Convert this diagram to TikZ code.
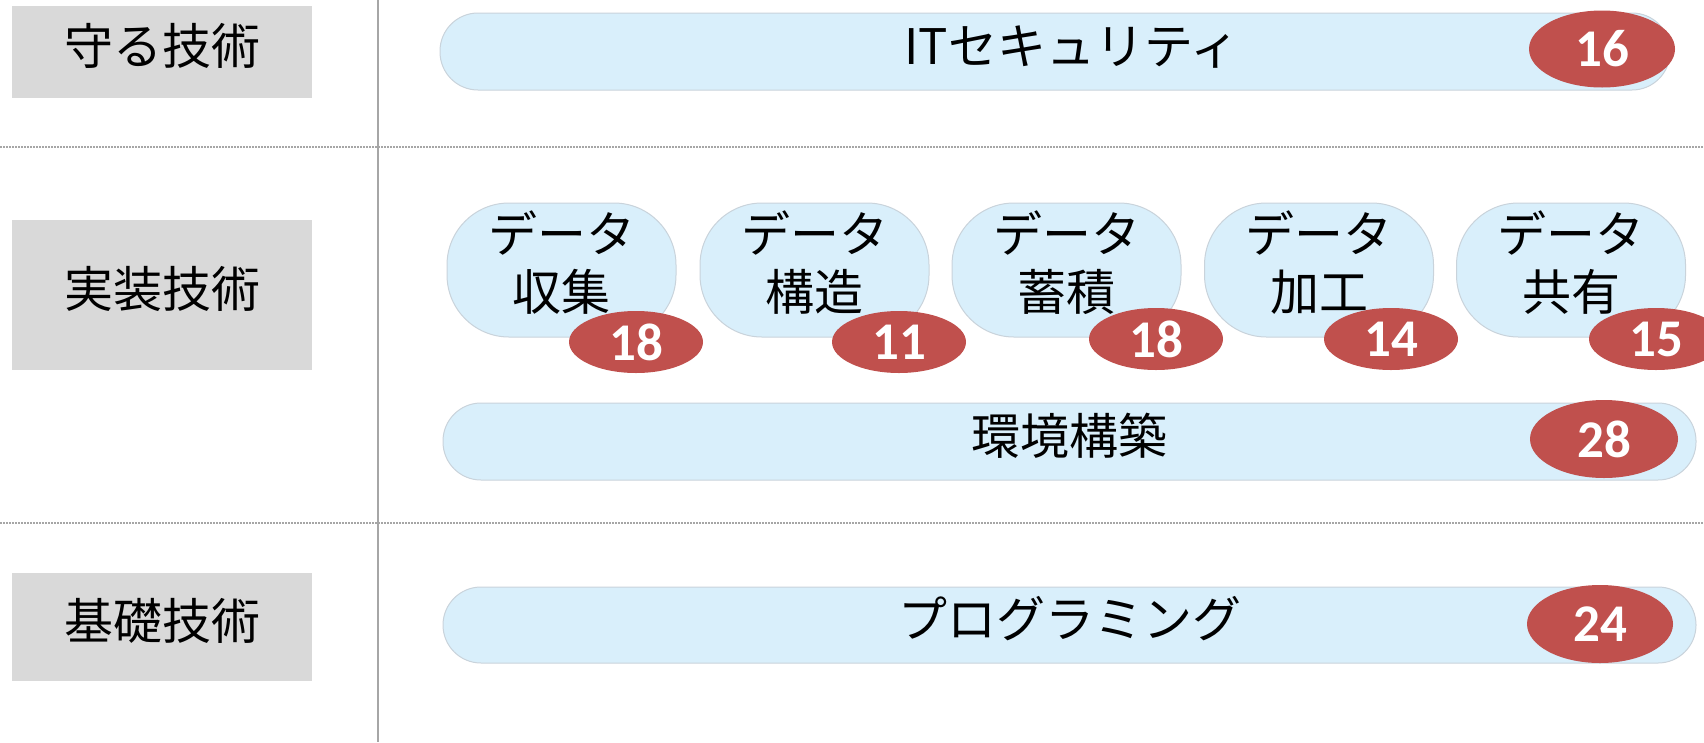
\documentclass[tikz,border=0pt]{standalone}
\usepackage{fontspec}
\newfontfamily\jp{Noto Sans CJK JP}
\newfontfamily\numfont{Carlito}
\usetikzlibrary{shapes.geometric}
\definecolor{pillfill}{HTML}{D9EFFB}
\definecolor{pilledge}{HTML}{C9D3DB}
\definecolor{badgered}{HTML}{C0504D}
\definecolor{graybox}{HTML}{D9D9D9}
\definecolor{rulegray}{HTML}{A6A6A6}
\begin{document}
\begin{tikzpicture}[x=1pt,y=-1pt,
 jpfont/.style={font=\jp\fontsize{49}{58}\selectfont},
 cat/.style={jpfont, fill=graybox, draw=none, minimum width=300pt, inner sep=0pt, text height=40pt, text depth=15pt},
 bar/.style={jpfont, fill=pillfill, draw=pilledge, line width=1pt, rounded corners=38pt, minimum height=77pt, inner sep=0pt, text height=40pt, text depth=15pt},
 pill/.style={fill=pillfill, draw=pilledge, line width=1pt, rounded corners=62pt, minimum width=229pt, minimum height=134pt, inner sep=0pt},
 pilltext/.style={jpfont, inner sep=0pt, align=center},
 badge/.style={ellipse, fill=badgered, draw=none, minimum width=134pt, minimum height=62pt, inner sep=0pt, text=white, font=\numfont\bfseries\fontsize{53}{56}\selectfont},
 bigbadge/.style={badge, minimum width=146pt, minimum height=77pt},
 sep/.style={rulegray, line width=1.5pt, dash pattern=on 1.5pt off 1.5pt}
]
\useasboundingbox (0,0) rectangle (1704,742);
\clip (0,0) rectangle (1704,742);
% separators
\coordinate (vt) at (378,0);
\coordinate (vb) at (378,742);
\draw[rulegray, line width=2pt] (vt) -- (vb);
\coordinate (h1l) at (0,147);
\coordinate (h1r) at (1704,147);
\coordinate (h2l) at (0,523);
\coordinate (h2r) at (1704,523);
\draw[sep] (h1l) -- (h1r);
\draw[sep] (h2l) -- (h2r);
% categories
\node[cat, minimum height=91.5pt] (c1) at (162,52) {守る技術};
\node[cat, minimum height=150pt] (c2) at (162,294.5) {実装技術};
\node[cat, minimum height=108pt] (c3) at (162,627) {基礎技術};
% bars
\node[bar, minimum width=1230pt] (it) at (1055,51.5) {\hspace*{34pt}ITセキュリティ};
\node[bar, minimum width=1253pt] (env) at (1069.5,441.5) {環境構築};
\node[bar, minimum width=1253pt, minimum height=76pt] (prog) at (1069.5,625) {プログラミング};
% pills
\node[pill] (p1) at (561.5,270) {};
\node[pill] (p2) at (814.5,270) {};
\node[pill] (p3) at (1066.5,270) {};
\node[pill] (p4) at (1319,270) {};
\node[pill] (p5) at (1571,270) {};
\node[pilltext] (t1) at (561.5,263) {データ\\収集};
\node[pilltext] (t2) at (814.5,263) {データ\\構造};
\node[pilltext] (t3) at (1066.5,263) {データ\\蓄積};
\node[pilltext] (t4) at (1319,263) {データ\\加工};
\node[pilltext] (t5) at (1571,263) {データ\\共有};
% badges
\node[bigbadge] (b16) at (1602,49) {16};
\node[badge] (b1) at (636,342) {18};
\node[badge] (b2) at (899,342) {11};
\node[badge] (b3) at (1156,339) {18};
\node[badge] (b4) at (1391,339) {14};
\node[badge] (b5) at (1656,339) {15};
\node[bigbadge, minimum width=148pt, minimum height=78pt] (b28) at (1604,439) {28};
\node[bigbadge, minimum height=78pt] (b24) at (1600,624) {24};
\end{tikzpicture}
\end{document}
